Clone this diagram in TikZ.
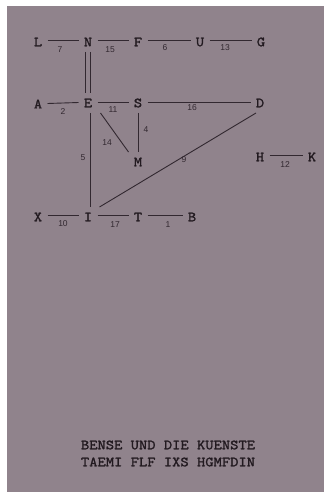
\documentclass[tikz,border=0pt]{standalone}
\usepackage{fontspec}
\newfontfamily\typew[FakeBold=1.6,FakeStretch=1.15]{Latin Modern Mono}
\newfontfamily\handfont{Liberation Sans}
\definecolor{paper}{RGB}{144,131,140}
\definecolor{ink}{RGB}{34,26,32}
\definecolor{pencil}{RGB}{50,40,48}
\tikzset{
  letter/.style={font=\typew\fontsize{14}{14}\selectfont, text=ink, inner sep=0pt, minimum width=13pt, minimum height=14pt, outer sep=3pt},
  wt/.style={font=\handfont\fontsize{8.5}{9}\selectfont, text=pencil, inner sep=0pt},
  edge/.style={draw=pencil, line width=0.9pt},
  footer/.style={font=\typew\fontsize{14}{14}\selectfont, text=ink, inner sep=0pt}
}
\begin{document}
\begin{tikzpicture}[x=1pt,y=-1pt]
\useasboundingbox (0,0) rectangle (324,492);
\fill[white] (0,0) rectangle (324,492);
\fill[paper] (7,6) rectangle (324,492);
% letters
\node[letter] (L) at (38,42) {L};
\node[letter] (N) at (88,42) {N};
\node[letter] (F) at (138,42) {F};
\node[letter] (U) at (200,42) {U};
\node[letter] (G) at (261,42) {G};
\node[letter] (A) at (38,104) {A};
\node[letter] (E) at (88,103) {E};
\node[letter] (S) at (138,103) {S};
\node[letter] (D) at (260,103) {D};
\node[letter] (M) at (138,162) {M};
\node[letter] (H) at (260,157) {H};
\node[letter] (K) at (312,157) {K};
\node[letter] (X) at (38,217) {X};
\node[letter] (I) at (88,217) {I};
\node[letter] (T) at (138,217) {T};
\node[letter] (B) at (192,217) {B};
% edges
\draw[edge] ([yshift=2pt]L.east) -- ([yshift=2pt]N.west);
\draw[edge] ([yshift=2pt]N.east) -- ([yshift=2pt]F.west);
\draw[edge] ([yshift=2pt]F.east) -- ([yshift=2pt]U.west);
\draw[edge] ([yshift=2pt]U.east) -- ([yshift=2pt]G.west);
\draw[edge] ([xshift=-2.6pt]N.south) -- ([xshift=-2.6pt]E.north);
\draw[edge] ([xshift=2.6pt]N.south) -- ([xshift=2.6pt]E.north);
\draw[edge] ([yshift=0.5pt]A.east) -- ([yshift=0.5pt]E.west);
\draw[edge] ([yshift=1pt]E.east) -- ([yshift=1pt]S.west);
\draw[edge] ([yshift=1pt]S.east) -- ([yshift=1pt]D.west);
\draw[edge] ([xshift=2pt]E.south) -- ([xshift=2pt]I.north);
\draw[edge] ([xshift=3pt]E.south east) -- (M.north west);
\draw[edge] (S.south) -- (M.north);
\draw[edge] ([xshift=2pt]I.north east) -- ([xshift=-4pt]D.south);
\draw[edge] ([yshift=2pt]H.east) -- ([yshift=2pt]K.west);
\draw[edge] ([yshift=2pt]X.east) -- ([yshift=2pt]I.west);
\draw[edge] ([yshift=2pt]I.east) -- ([yshift=2pt]T.west);
\draw[edge] ([yshift=2pt]T.east) -- ([yshift=2pt]B.west);
% weights
\node[wt] (w7) at (60,50) {7};
\node[wt] (w15) at (110,50) {15};
\node[wt] (w6) at (165,48) {6};
\node[wt] (w13) at (225,48) {13};
\node[wt] (w2) at (63,112) {2};
\node[wt] (w11) at (113,110) {11};
\node[wt] (w16) at (192,108) {16};
\node[wt] (w4) at (146,130) {4};
\node[wt] (w14) at (107,143) {14};
\node[wt] (w5) at (83,158) {5};
\node[wt] (w9) at (184,160) {9};
\node[wt] (w12) at (285,165) {12};
\node[wt] (w10) at (63,224) {10};
\node[wt] (w17) at (115,225) {17};
\node[wt] (w1) at (168,225) {1};
% footer
\node[footer] (f1) at (168,445) {BENSE UND DIE KUENSTE};
\node[footer] (f2) at (168,462) {TAEMI FLF IXS HGMFDIN};
\end{tikzpicture}
\end{document}
